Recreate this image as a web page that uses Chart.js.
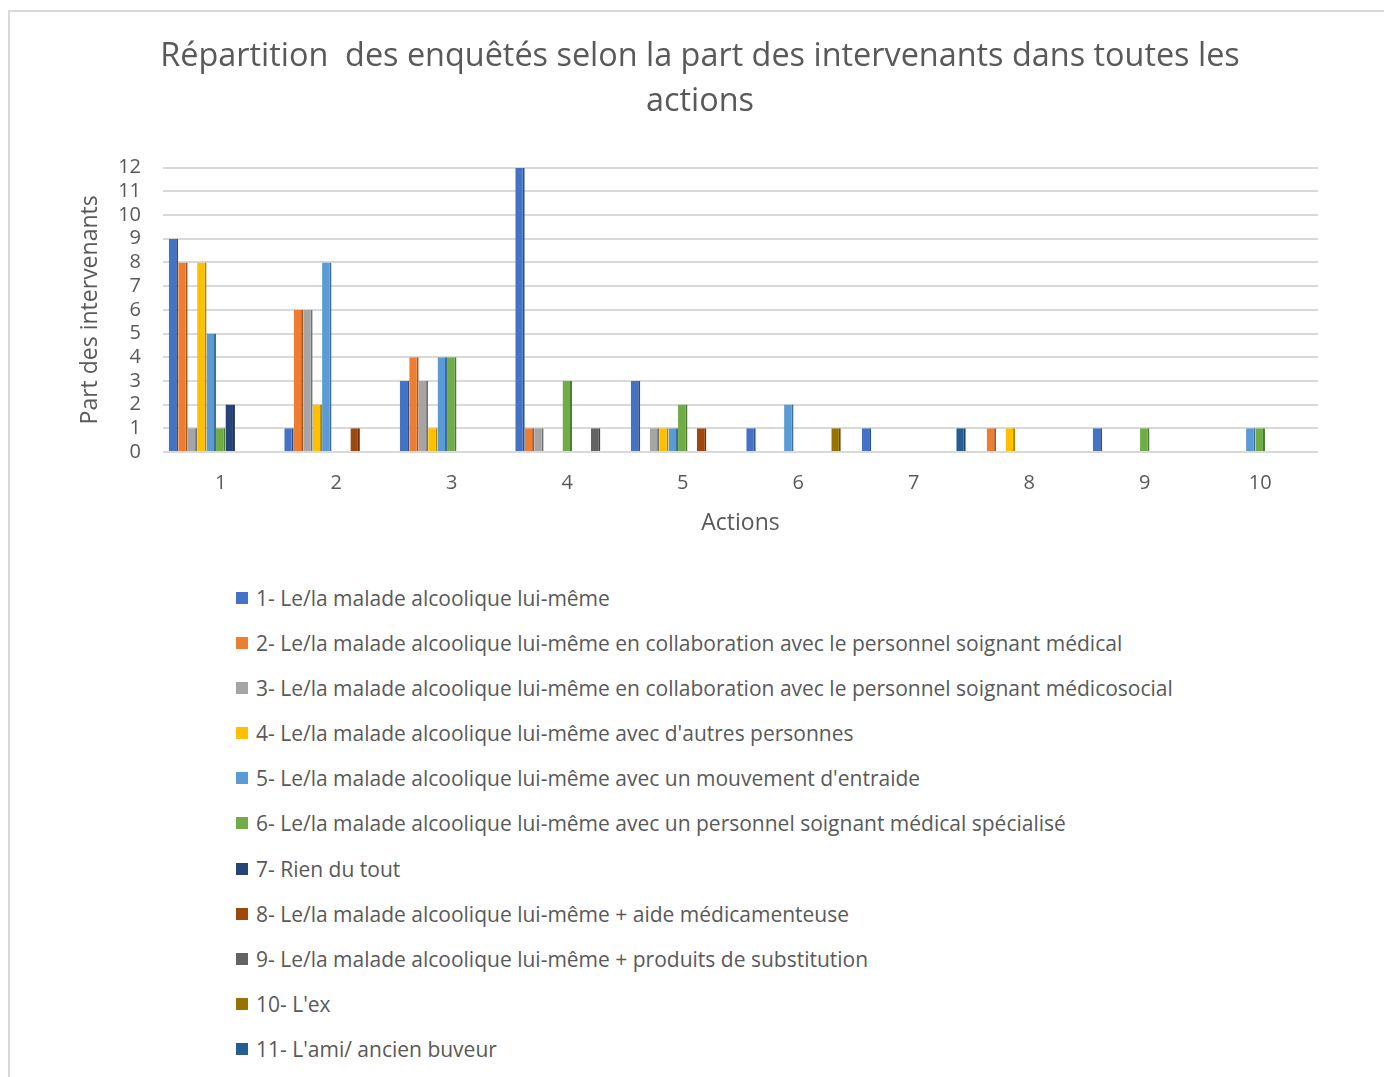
<!DOCTYPE html>
<html lang="fr">
<head>
<meta charset="utf-8">
<title>Répartition des enquêtés</title>
<script src="https://cdn.jsdelivr.net/npm/chart.js@4.4.1/dist/chart.umd.min.js"></script>
<style>
  html, body { margin: 0; padding: 0; background: #fff; overflow: hidden; }
  body { width: 1384px; height: 1077px; position: relative; font-family: "Open Sans", sans-serif; }
  #frame { position: absolute; left: 8px; top: 10px; width: 1400px; height: 1100px; border: 2px solid #d9d9d9; box-sizing: border-box; }
  #wrap { position: absolute; left: 0; top: 0; width: 1384px; height: 560px; }
  #legend { position: absolute; left: 236px; top: 583px; margin: 0; padding: 0; list-style: none; }
  #legend li { height: 45.1px; display: flex; align-items: flex-start; font-size: 21px; color: #595959; line-height: 30px; white-space: nowrap; }
  #legend span.box { display: inline-block; width: 12px; height: 12px; margin: 9px 8px 0 0; }
</style>
</head>
<body>
<div id="frame"></div>
<div id="wrap"><canvas id="chart" width="1384" height="560"></canvas></div>
<ul id="legend"></ul>
<script>
// catégories (actions)
const actions = ['1', '2', '3', '4', '5', '6', '7', '8', '9', '10'];

// libellés des séries
const seriesNames = [
  "1- Le/la malade alcoolique lui-même",
  "2- Le/la malade alcoolique lui-même en collaboration avec le personnel soignant médical",
  "3- Le/la malade alcoolique lui-même en collaboration avec le personnel soignant médicosocial",
  "4- Le/la malade alcoolique lui-même avec d'autres personnes",
  "5- Le/la malade alcoolique lui-même avec un mouvement d'entraide",
  "6- Le/la malade alcoolique lui-même avec un personnel soignant médical spécialisé",
  "7- Rien du tout",
  "8- Le/la malade alcoolique lui-même + aide médicamenteuse",
  "9- Le/la malade alcoolique lui-même + produits de substitution",
  "10- L'ex",
  "11- L'ami/ ancien buveur"
];

// valeurs par série (une valeur par action)
const s1  = [9, 1, 3, 12, 3, 1, 1, 0, 1, 0];
const s2  = [8, 6, 4, 1, 0, 0, 0, 1, 0, 0];
const s3  = [1, 6, 3, 1, 1, 0, 0, 0, 0, 0];
const s4  = [8, 2, 1, 0, 1, 0, 0, 1, 0, 0];
const s5  = [5, 8, 4, 0, 1, 2, 0, 0, 0, 1];
const s6  = [1, 0, 4, 3, 2, 0, 0, 0, 1, 1];
const s7  = [2, 0, 0, 0, 0, 0, 0, 0, 0, 0];
const s8  = [0, 1, 0, 0, 1, 0, 0, 0, 0, 0];
const s9  = [0, 0, 0, 1, 0, 0, 0, 0, 0, 0];
const s10 = [0, 0, 0, 0, 0, 1, 0, 0, 0, 0];
const s11 = [0, 0, 0, 0, 0, 0, 1, 0, 0, 0];
const seriesValues = [s1, s2, s3, s4, s5, s6, s7, s8, s9, s10, s11];

// graduations de l'axe Y
const yTicks = [0, 1, 2, 3, 4, 5, 6, 7, 8, 9, 10, 11, 12];

// palette Office
const colors = ['#4472C4', '#ED7D31', '#A5A5A5', '#FFC000', '#5B9BD5', '#70AD47',
                '#264478', '#9E480E', '#636363', '#997300', '#255E91'];

// assombrir une couleur pour le côté "3D"
function shade(hex, f) {
  const n = parseInt(hex.slice(1), 16);
  const r = Math.round(((n >> 16) & 255) * f);
  const g = Math.round(((n >> 8) & 255) * f);
  const b = Math.round((n & 255) * f);
  return `rgb(${r},${g},${b})`;
}

const TEXT = '#595959';

const datasets = seriesValues.map((vals, i) => ({
  label: seriesNames[i],
  data: vals,
  backgroundColor: colors[i],
  borderColor: shade(colors[i], 0.7),
  borderWidth: { top: 0, right: 2, bottom: 0, left: 0 },
  borderSkipped: false,
  categoryPercentage: 0.9,
  barPercentage: 1.0
}));

Chart.defaults.font.family = '"Open Sans", sans-serif';
Chart.defaults.color = TEXT;

const chart = new Chart(document.getElementById('chart'), {
  type: 'bar',
  data: { labels: actions, datasets: datasets },
  options: {
    responsive: false,
    animation: false,
    layout: { padding: { left: 68, right: 52, top: 0, bottom: 23 } },
    plugins: {
      legend: { display: false },
      tooltip: { enabled: false },
      title: {
        display: true,
        text: ['Répartition  des enquêtés selon la part des intervenants dans toutes les', 'actions'],
        color: TEXT,
        font: { size: 32.4, weight: 'normal', lineHeight: 1.4 },
        padding: { top: 34, bottom: 43 }
      }
    },
    scales: {
      x: {
        grid: { display: false, drawTicks: false },
        border: { display: false },
        ticks: { color: TEXT, font: { size: 20 }, padding: 19 },
        title: { display: true, text: 'Actions', color: TEXT, font: { size: 23 }, padding: { top: 10, bottom: 0 } },
        afterFit: s => { s.height = 85; }
      },
      y: {
        min: 0,
        max: 12,
        afterBuildTicks: s => { s.ticks = yTicks.map(v => ({ value: v })); },
        grid: { color: '#d9d9d9', lineWidth: 2, drawTicks: false },
        border: { display: false },
        ticks: { color: TEXT, font: { size: 20 }, padding: 22, autoSkip: false },
        title: { display: true, text: 'Part des intervenants', color: TEXT, font: { size: 23 }, padding: { top: 9, bottom: 0 } },
        afterFit: s => { s.width = 95; }
      },
      // axe vide à droite : réserve juste la profondeur du graphique
      yRight: {
        position: 'right',
        min: 0,
        max: 12,
        grid: { display: false, drawTicks: false },
        border: { display: false },
        ticks: { display: false },
        afterFit: s => { s.width = 14; }
      }
    }
  }
});

// légende verticale en HTML
const legendEl = document.getElementById('legend');
chart.data.datasets.forEach(ds => {
  const li = document.createElement('li');
  const box = document.createElement('span');
  box.className = 'box';
  box.style.background = ds.backgroundColor;
  li.appendChild(box);
  li.appendChild(document.createTextNode(ds.label));
  legendEl.appendChild(li);
});
</script>
</body>
</html>
